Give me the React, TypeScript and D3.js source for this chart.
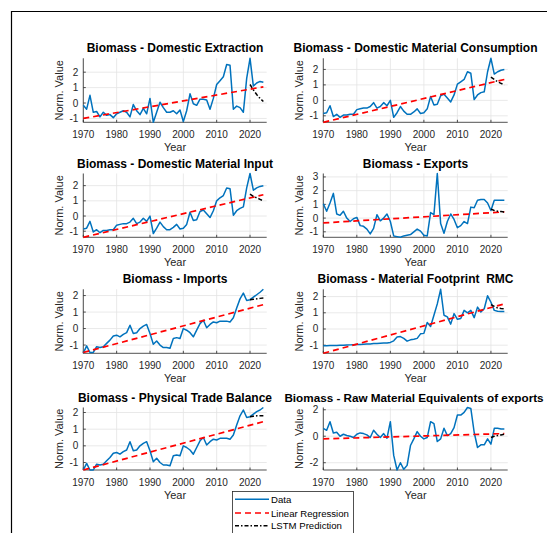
import React from "react";
import * as d3 from "d3";

const years = d3.range(1970, 2025);
const lstmYears = [2020, 2021, 2022, 2023, 2024];
const xTicks = [1970, 1980, 1990, 2000, 2010, 2020];

const titles = [
  "Biomass - Domestic Extraction",
  "Biomass - Domestic Material Consumption",
  "Biomass - Domestic Material Input",
  "Biomass - Exports",
  "Biomass - Imports",
  "Biomass - Material Footprint  RMC",
  "Biomass - Physical Trade Balance",
  "Biomass - Raw Material Equivalents of exports",
];

const dataDE = [
  -0.15, -0.4, 0.5, -0.6, -0.55, -0.9, -0.6, -0.8, -0.75, -0.95,
  -0.7, -0.6, -0.5, -0.6, -0.9, -0.1, -0.5, -0.75, -0.35, -0.7,
  0.3, -1.25, -0.6, 0.05, -0.3, -0.6, -0.6, -0.5, -0.7, -0.45,
  -1.2, -0.5, 0.6, -0.05, -0.15, 0.25, 0.25, 0.2, -0.4, 0.3,
  1.2, 1.45, 1.7, 2.5, 2.45, -0.4, -0.2, -0.3, -0.6, 1.6,
  2.9, 1.1, 1.3, 1.4, 1.35,
];
const dataDMC = [
  -0.85, -0.8, -0.35, -1.05, -0.9, -1.1, -0.95, -0.95, -0.9, -0.9,
  -0.6, -0.55, -0.5, -0.5, -0.4, -0.15, -0.5, -0.4, -0.15, -0.35,
  0, -1.1, -0.8, -0.4, -0.7, -0.9, -0.9, -0.75, -0.55, -0.85,
  -0.8, -0.55, 0.25, -0.3, -0.25, 0.3, 0.4, 0.15, -0.1, 0.35,
  1.05, 1.2, 1.35, 1.85, 1.75, 0.05, 0.35, 0.5, 0.55, 1.85,
  2.72, 1.7, 1.85, 1.95, 2.0,
];
const dataDMI = [
  -0.85, -0.8, -0.35, -1.05, -0.9, -1.1, -0.95, -0.95, -0.9, -0.9,
  -0.6, -0.55, -0.5, -0.5, -0.4, -0.15, -0.5, -0.4, -0.15, -0.35,
  0, -1.15, -0.8, -0.4, -0.7, -0.9, -0.9, -0.75, -0.55, -0.85,
  -0.8, -0.55, 0.25, -0.3, -0.25, 0.3, 0.4, 0.15, -0.1, 0.35,
  1.0, 1.2, 1.35, 1.85, 1.8, 0.05, 0.35, 0.5, 0.6, 1.85,
  2.8, 1.7, 1.85, 1.95, 2.0,
];
const dataEXP = [
  1.05, 0.5, 1.1, 1.8, 0.3, 0.2, 0.5, 0, -0.25, -0.05,
  0.05, -0.55, -0.6, -0.8, -1.15, -0.75, 0.25, -0.2, 0, 0.3,
  -0.25, -1.3, -1.35, -1.4, -1.3, -1.25, -1.2, -1.0, -0.8, -0.95,
  -1.25, -1.3, 0.4, 0.25, 3.25, -0.4, -1.1, -0.25, 0.3, -0.1,
  -0.7, -0.55, -0.25, -0.4, 0.8, 0.75, 1.3, 1.35, 1.35, 1.1,
  0.55, 1.3, 1.3, 1.3, 1.3,
];
const dataIMP = [
  -1.5, -1.05, -1.45, -1.45, -1.1, -1.15, -1.1, -0.9, -0.7, -0.45,
  -0.4, -0.5, -0.35, -0.25, 0.2, -0.3, -0.25, 0, 0.15, 0.25,
  -0.3, -0.95, -0.75, -1.0, -1.15, -1.15, -1.2, -0.6, -0.55, -0.6,
  0, -0.1, -0.25, -0.5, -0.1, 0.3, 0.5, 0.05, 0.25, 0.4,
  0.35, 0.45, 0.45, 0.45, 0.4, 0.65, 1.25, 1.8, 2.15, 1.7,
  1.75, 1.9, 2.05, 2.2, 2.38,
];
const dataRMC = [
  -1.03, -1.03, -1.02, -1.02, -1.02, -1.01, -1.0, -0.99, -0.98, -0.97,
  -0.96, -0.95, -0.94, -0.93, -0.92, -0.9, -0.89, -0.88, -0.87, -0.86,
  -0.83, -0.73, -0.5, -0.47, -0.58, -0.75, -0.67, -0.63, -0.58, -0.3,
  -0.27, 0.4, 0.15, 0.85, 1.55, 2.45, 0.85, 0.75, 0.3, 0.95,
  0.6, 0.65, 1.15, 1.0, 1.15, 0.7, 1.35, 1.05, 1.25, 2.05,
  1.65, 1.15, 1.1, 1.08, 1.08,
];
const dataPTB = [
  -1.45, -1.05, -1.45, -1.45, -1.1, -1.15, -1.1, -0.9, -0.7, -0.45,
  -0.4, -0.5, -0.35, -0.25, 0.25, -0.3, -0.25, 0, 0.15, 0.25,
  -0.3, -0.95, -0.75, -1.0, -1.15, -1.15, -1.2, -0.6, -0.55, -0.6,
  0, -0.1, -0.25, -0.5, -0.1, 0.3, 0.5, 0.05, 0.25, 0.4,
  0.35, 0.45, 0.45, 0.45, 0.4, 0.65, 1.25, 1.8, 2.15, 1.7,
  1.75, 1.9, 2.05, 2.15, 2.3,
];
const dataRME = [
  0.6, 0.45, 1.1, 0.25, 0.3, 0, 0.15, 0.05, 0, -0.1,
  0.15, 0.25, 0.2, 0.1, -0.1, 0.45, 0.15, -0.1, 0.2, -0.15,
  1.1, -1.45, -2.55, -2.0, -2.5, -2.2, -0.7, -0.2, 0.35, 0,
  -0.2, -0.1, 1.1, 0.95, -0.4, -0.2, 0.6, 0.05, 0.2, 0.65,
  1.6, 1.6, 1.8, 2.17, 2.1, 0.3, -0.85, -0.65, -0.65, -0.2,
  -0.6, 0.6, 0.6, 0.55, 0.55,
];

const seriesData = [dataDE, dataDMC, dataDMI, dataEXP, dataIMP, dataRMC, dataPTB, dataRME];

// linear regression values at 1970 and 2024
const regDE = [-1.0, 1.05];
const regDMC = [-1.42, 1.35];
const regDMI = [-1.4, 1.4];
const regEXP = [-0.35, 0.45];
const regIMP = [-1.45, 1.45];
const regRMC = [-1.5, 1.55];
const regPTB = [-1.45, 1.45];
const regRME = [-0.2, 0.2];
const regData = [regDE, regDMC, regDMI, regEXP, regIMP, regRMC, regPTB, regRME];

// LSTM predictions 2020-2024
const lstmDE = [1.2, 0.85, 0.55, 0.3, 0.1];
const lstmDMC = [1.5, 1.35, 1.2, 1.1, 1.0];
const lstmDMI = [1.45, 1.3, 1.2, 1.1, 1.0];
const lstmEXP = [0.65, 0.55, 0.5, 0.48, 0.45];
const lstmIMP = [1.75, 1.78, 1.8, 1.83, 1.85];
const lstmRMC = [1.5, 1.4, 1.3, 1.27, 1.25];
const lstmPTB = [1.75, 1.78, 1.8, 1.8, 1.8];
const lstmRME = [-0.1, 0.0, 0.05, 0.1, 0.15];
const lstmData = [lstmDE, lstmDMC, lstmDMI, lstmEXP, lstmIMP, lstmRMC, lstmPTB, lstmRME];

const yTicksAll = [
  [-1, 0, 1, 2],
  [-1, 0, 1, 2],
  [-1, 0, 1, 2],
  [-1, 0, 1, 2, 3],
  [-1, 0, 1, 2],
  [-1, 0, 1, 2],
  [-1, 0, 1, 2],
  [-2, 0, 2],
];

const legendLabels = ["Data", "Linear Regression", "LSTM Prediction"];

const COL_X = [
  [83.3, 266.7],
  [323.3, 507.7],
];
const ROW_Y = [
  [58.3, 122.3],
  [173.5, 237.3],
  [289.3, 353.3],
  [407.5, 470],
];

const FONT = "'Liberation Sans', Arial, sans-serif";
const AX = "#262626";
const BLUE = "#0072BD";

function Panel({ i }: { i: number }) {
  const col = i % 2;
  const row = Math.floor(i / 2);
  const [x0, x1] = COL_X[col];
  const [top, bottom] = ROW_Y[row];
  const data = seriesData[i];
  const reg = regData[i];
  const lstm = lstmData[i];
  const all = [...data, ...reg, ...lstm];
  const x = d3.scaleLinear().domain([1970, 2025]).range([x0, x1]);
  const y = d3.scaleLinear().domain(d3.extent(all) as [number, number]).range([bottom, top]);
  const line = d3
    .line<[number, number]>()
    .x((d) => x(d[0]))
    .y((d) => y(d[1]));
  const dataPts = years.map((yr, k) => [yr, data[k]] as [number, number]);
  const regPts: [number, number][] = [
    [1970, reg[0]],
    [2024, reg[1]],
  ];
  const lstmPts = lstmYears.map((yr, k) => [yr, lstm[k]] as [number, number]);
  const yTicks = yTicksAll[i];
  const cx = (x0 + x1) / 2;
  const cy = (top + bottom) / 2;
  const longTitle = titles[i].length > 40;
  return (
    <g>
      {xTicks.map((t) => (
        <line key={"gx" + t} x1={x(t)} x2={x(t)} y1={top} y2={bottom} stroke="#e3e3e3" strokeWidth={0.8} />
      ))}
      {yTicks.map((t) => (
        <line key={"gy" + t} x1={x0} x2={x1} y1={y(t)} y2={y(t)} stroke="#e3e3e3" strokeWidth={0.8} />
      ))}
      <line x1={x0} x2={x0} y1={top} y2={bottom} stroke={AX} strokeWidth={0.8} />
      <line x1={x0} x2={x1} y1={bottom} y2={bottom} stroke={AX} strokeWidth={0.8} />
      {xTicks.map((t) => (
        <g key={"tx" + t}>
          <line x1={x(t)} x2={x(t)} y1={bottom} y2={bottom - 2.5} stroke={AX} strokeWidth={0.8} />
          <text x={x(t)} y={bottom + 16} textAnchor="middle" fontSize={10} fill={AX} fontFamily={FONT}>
            {t}
          </text>
        </g>
      ))}
      {yTicks.map((t) => (
        <g key={"ty" + t}>
          <line x1={x0} x2={x0 + 2.5} y1={y(t)} y2={y(t)} stroke={AX} strokeWidth={0.8} />
          <text x={x0 - 5} y={y(t) + 3.5} textAnchor="end" fontSize={10} fill={AX} fontFamily={FONT}>
            {t}
          </text>
        </g>
      ))}
      <path d={line(dataPts) || ""} fill="none" stroke={BLUE} strokeWidth={1.5} strokeLinejoin="round" />
      <path d={line(regPts) || ""} fill="none" stroke="#FF0000" strokeWidth={1.7} strokeDasharray="6,4" />
      <path d={line(lstmPts) || ""} fill="none" stroke="#000" strokeWidth={1.5} strokeDasharray="4,2,1.5,2" />
      <text
        x={longTitle ? cx - 1.5 : cx}
        y={top - 6}
        textAnchor="middle"
        fontSize={longTitle ? 11.7 : 12}
        fontWeight="bold"
        fill="#000"
        fontFamily={FONT}
        style={{ whiteSpace: "pre" }}
      >
        {titles[i]}
      </text>
      <text x={cx} y={bottom + 29} textAnchor="middle" fontSize={11} fill={AX} fontFamily={FONT}>
        Year
      </text>
      <text
        transform={`translate(${x0 - 20},${cy}) rotate(-90)`}
        textAnchor="middle"
        fontSize={11}
        fill={AX}
        fontFamily={FONT}
      >
        Norm. Value
      </text>
    </g>
  );
}

export default function App() {
  const lx0 = 235;
  const lx1 = 269;
  const ly = [499.3, 513, 525.7];
  return (
    <svg
      width={547}
      height={533}
      style={{ position: "absolute", left: 0, top: 0, background: "#fff" }}
    >
      <rect x={0} y={0} width={547} height={533} fill="#fff" />
      <path d="M11.5,533 L11.5,11.5 L547,11.5" fill="none" stroke="#000" strokeWidth={1.2} />
      {titles.map((_, i) => (
        <Panel key={i} i={i} />
      ))}
      <g>
        <rect x={232.5} y={491.5} width={121} height={50} fill="#fff" stroke="#262626" strokeWidth={0.8} />
        <line x1={lx0} x2={lx1} y1={ly[0]} y2={ly[0]} stroke={BLUE} strokeWidth={1.5} />
        <line x1={lx0} x2={lx1} y1={ly[1]} y2={ly[1]} stroke="#FF0000" strokeWidth={1.5} strokeDasharray="6,4" />
        <line x1={lx0} x2={lx1} y1={ly[2]} y2={ly[2]} stroke="#000" strokeWidth={1.5} strokeDasharray="4,2,1.5,2" />
        {legendLabels.map((l, k) => (
          <text key={l} x={271} y={ly[k] + 3.5} fontSize={9.6} fill="#000" fontFamily={FONT}>
            {l}
          </text>
        ))}
      </g>
    </svg>
  );
}
